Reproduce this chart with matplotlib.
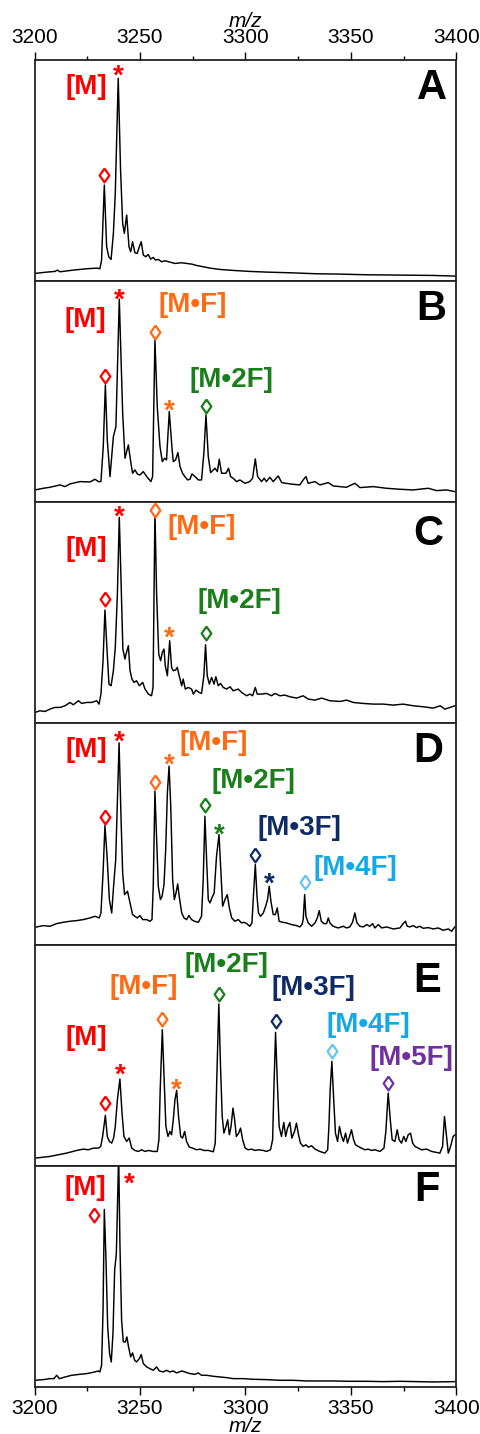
import matplotlib
matplotlib.use('Agg')
import matplotlib.pyplot as plt
import numpy as np
from matplotlib.transforms import offset_copy

plt.rcParams['font.family'] = ['Liberation Sans', 'DejaVu Sans']

# ---- traces (m/z, intensity a.u.) ----
mz_a = [3200.2, 3205.8, 3209.7, 3210.8, 3212.1, 3218.4, 3224.7, 3229.5, 3231.0, 3231.8,
        3233.1, 3234.2, 3235.2, 3236.3, 3237.4, 3238.3, 3239.7, 3240.8, 3241.8, 3242.6,
        3243.7, 3244.8, 3245.6, 3246.5, 3247.6, 3248.7, 3249.7, 3250.6, 3251.6, 3252.8,
        3253.9, 3255.1, 3256.3, 3257.4, 3258.7, 3260.3, 3261.8, 3264.2, 3266.6, 3269.7,
        3272.1, 3274.5, 3276.8, 3280.0, 3283.2, 3287.9, 3294.3, 3302.2, 3310.1, 3321.1,
        3333.8, 3344.8, 3357.5, 3373.3, 3389.1, 3399.8]
int_a = [23, 27, 29, 33, 28, 33, 37, 39, 37, 63,
         288, 103, 73, 65, 143, 263, 608, 333, 173, 143,
         198, 103, 88, 118, 85, 83, 103, 118, 78, 73,
         80, 66, 71, 63, 65, 58, 61, 57, 53, 55,
         53, 51, 47, 43, 39, 35, 32, 29, 27, 25,
         22, 21, 19, 18, 17, 15]

mz_b = [3200.2, 3204.2, 3207.3, 3212.1, 3214.5, 3216.8, 3221.6, 3226.3, 3228.7, 3230.3,
        3231.5, 3232.6, 3233.6, 3234.5, 3235.8, 3237.4, 3238.6, 3240.2, 3241.8, 3242.9,
        3244.5, 3245.6, 3246.5, 3247.6, 3248.9, 3250.0, 3251.6, 3253.2, 3255.2, 3256.0,
        3257.1, 3258.2, 3259.5, 3260.6, 3261.7, 3262.6, 3263.9, 3265.2, 3265.8, 3266.9,
        3268.0, 3269.0, 3270.2, 3271.3, 3272.6, 3273.7, 3274.7, 3276.1, 3277.7, 3279.2,
        3280.3, 3281.3, 3282.4, 3283.5, 3284.8, 3285.6, 3286.7, 3287.6, 3288.7, 3290.8,
        3292.0, 3293.0, 3294.2, 3295.8, 3297.4, 3299.8, 3302.1, 3303.4, 3304.7, 3305.8,
        3307.7, 3308.9, 3310.0, 3311.6, 3313.2, 3315.6, 3317.2, 3321.1, 3325.8, 3327.4,
        3328.7, 3329.8, 3333.0, 3335.3, 3339.3, 3341.6, 3347.9, 3351.9, 3354.3, 3360.6,
        3366.9, 3373.3, 3379.6, 3386.7, 3390.6, 3395.4, 3399.3]
int_b = [37, 42, 45, 52, 47, 55, 62, 61, 69, 62,
         62, 167, 352, 187, 77, 197, 227, 609, 267, 132,
         172, 122, 87, 97, 84, 82, 92, 77, 62, 77,
         487, 287, 167, 122, 132, 127, 272, 162, 122, 127,
         149, 107, 87, 77, 67, 69, 85, 77, 67, 67,
         147, 262, 137, 89, 97, 102, 92, 129, 87, 87,
         102, 77, 72, 62, 67, 57, 62, 72, 130, 77,
         62, 72, 62, 75, 62, 79, 59, 55, 52, 67,
         77, 57, 62, 52, 59, 49, 45, 57, 44, 47,
         42, 39, 37, 42, 35, 37, 32]

mz_c = [3200.2, 3202.6, 3205.0, 3207.3, 3209.7, 3212.1, 3214.5, 3216.8, 3218.4, 3220.8,
        3222.4, 3224.7, 3227.1, 3229.5, 3230.6, 3231.5, 3232.5, 3233.4, 3234.4, 3235.3,
        3236.3, 3237.4, 3238.3, 3239.3, 3240.2, 3241.2, 3241.9, 3242.9, 3243.4, 3244.5,
        3245.3, 3246.2, 3247.2, 3248.4, 3249.7, 3251.3, 3252.4, 3254.0, 3255.5, 3256.2,
        3257.1, 3257.9, 3258.9, 3259.8, 3260.6, 3261.4, 3262.0, 3263.0, 3264.1, 3265.0,
        3265.8, 3266.9, 3267.7, 3268.6, 3269.8, 3270.5, 3271.5, 3272.9, 3274.5, 3275.3,
        3276.6, 3278.0, 3279.2, 3280.3, 3281.1, 3281.9, 3282.9, 3284.0, 3285.1, 3286.0,
        3287.1, 3288.2, 3289.5, 3291.1, 3292.7, 3294.2, 3296.6, 3298.2, 3300.6, 3302.1,
        3303.4, 3304.7, 3305.6, 3307.7, 3310.0, 3312.4, 3314.0, 3316.4, 3318.7, 3321.1,
        3324.3, 3327.4, 3329.8, 3333.0, 3336.1, 3340.1, 3344.8, 3348.0, 3351.1, 3355.9,
        3360.6, 3365.4, 3370.1, 3374.8, 3379.6, 3384.3, 3389.1, 3392.3, 3394.6, 3397.0,
        3399.3]
int_c = [33, 38, 36, 43, 48, 48, 53, 63, 56, 68,
         60, 63, 63, 68, 58, 88, 188, 340, 218, 118,
         113, 158, 228, 388, 618, 388, 223, 193, 208, 233,
         158, 133, 123, 128, 113, 123, 103, 88, 83, 108,
         636, 388, 208, 188, 213, 223, 173, 143, 248, 168,
         158, 160, 168, 143, 113, 133, 103, 108, 103, 88,
         100, 93, 90, 143, 236, 143, 118, 138, 118, 140,
         113, 120, 108, 103, 110, 98, 103, 93, 83, 88,
         83, 108, 88, 88, 90, 83, 90, 83, 85, 80,
         76, 83, 73, 70, 76, 68, 66, 70, 63, 60,
         58, 58, 55, 58, 53, 50, 46, 53, 43, 48,
         53]

mz_d = [3200.2, 3204.2, 3207.3, 3210.5, 3213.7, 3216.8, 3220.0, 3223.1, 3226.3, 3228.7,
        3230.7, 3231.5, 3232.5, 3233.4, 3234.4, 3235.5, 3236.6, 3237.5, 3238.5, 3239.3,
        3240.1, 3241.0, 3241.8, 3242.7, 3244.1, 3245.3, 3246.5, 3247.6, 3248.7, 3250.0,
        3251.3, 3253.2, 3254.7, 3255.7, 3256.3, 3257.1, 3257.9, 3258.7, 3259.7, 3260.5,
        3261.4, 3262.2, 3263.0, 3263.8, 3264.6, 3265.5, 3266.3, 3267.1, 3267.9, 3268.6,
        3269.8, 3270.9, 3272.1, 3273.2, 3274.5, 3275.8, 3277.7, 3279.2, 3280.0, 3280.8,
        3281.6, 3282.4, 3283.2, 3284.1, 3285.2, 3286.3, 3287.5, 3288.4, 3289.2, 3290.3,
        3291.4, 3292.4, 3293.5, 3295.0, 3296.6, 3298.2, 3299.4, 3300.6, 3302.1, 3303.1,
        3303.7, 3304.7, 3305.5, 3306.2, 3307.2, 3308.5, 3309.6, 3310.5, 3311.3, 3312.1,
        3313.2, 3314.2, 3315.1, 3316.0, 3317.6, 3319.5, 3321.9, 3324.3, 3325.8, 3326.8,
        3327.4, 3328.1, 3328.7, 3329.8, 3331.4, 3333.0, 3334.1, 3335.0, 3336.0, 3337.2,
        3338.5, 3339.3, 3340.1, 3341.6, 3344.0, 3346.4, 3348.0, 3349.5, 3350.8, 3351.9,
        3352.9, 3354.3, 3355.9, 3357.5, 3359.0, 3360.3, 3361.4, 3363.0, 3364.6, 3367.0,
        3370.1, 3373.3, 3374.8, 3375.9, 3376.7, 3378.0, 3379.6, 3381.1, 3382.7, 3384.3,
        3386.7, 3389.1, 3391.4, 3393.8, 3396.2, 3397.8, 3399.3]
int_d = [52, 57, 55, 63, 67, 70, 72, 75, 80, 85,
         80, 95, 215, 357, 265, 135, 95, 175, 255, 435,
         605, 385, 215, 150, 160, 125, 90, 85, 80, 87,
         75, 75, 70, 75, 175, 460, 315, 175, 135, 145,
         180, 285, 455, 535, 415, 195, 135, 155, 182, 145,
         95, 80, 75, 87, 75, 70, 67, 85, 195, 385,
         255, 135, 125, 140, 155, 265, 330, 215, 115, 135,
         150, 110, 80, 70, 75, 65, 67, 63, 55, 65,
         135, 240, 145, 95, 85, 95, 115, 135, 175, 130,
         90, 90, 110, 70, 67, 65, 60, 57, 53, 60,
         75, 150, 85, 65, 55, 65, 80, 102, 70, 63,
         63, 80, 65, 55, 50, 55, 50, 53, 67, 95,
         65, 55, 53, 60, 55, 63, 50, 60, 50, 53,
         47, 50, 63, 70, 55, 53, 57, 51, 55, 49,
         51, 47, 50, 43, 47, 40, 53]

mz_e = [3200.2, 3204.2, 3207.3, 3211.3, 3215.2, 3220.0, 3223.1, 3225.5, 3227.9, 3230.3,
        3231.4, 3232.3, 3233.6, 3234.5, 3235.5, 3236.6, 3237.5, 3238.3, 3239.3, 3240.5,
        3241.5, 3242.4, 3243.7, 3244.9, 3246.1, 3247.6, 3249.2, 3250.8, 3252.4, 3254.0,
        3256.3, 3258.2, 3259.0, 3259.6, 3260.6, 3261.5, 3262.3, 3263.3, 3264.2, 3265.0,
        3265.8, 3266.6, 3267.4, 3268.3, 3269.3, 3270.2, 3271.2, 3272.1, 3273.4, 3275.0,
        3276.9, 3278.5, 3280.3, 3282.4, 3284.8, 3285.7, 3286.5, 3287.4, 3288.2, 3289.0,
        3289.8, 3290.8, 3291.6, 3292.4, 3293.2, 3294.1, 3294.9, 3295.7, 3296.8, 3297.7,
        3298.7, 3299.9, 3301.3, 3302.9, 3304.5, 3306.1, 3308.5, 3310.0, 3311.9, 3312.9,
        3313.5, 3314.3, 3315.1, 3316.0, 3317.1, 3318.2, 3319.1, 3320.0, 3321.1, 3322.0,
        3323.3, 3324.2, 3325.2, 3326.1, 3327.4, 3328.7, 3329.8, 3331.4, 3333.0, 3335.3,
        3337.7, 3339.0, 3339.6, 3340.2, 3341.0, 3341.8, 3342.7, 3343.7, 3344.6, 3345.6,
        3346.5, 3347.5, 3348.4, 3349.4, 3350.3, 3351.3, 3352.2, 3353.5, 3355.1, 3356.6,
        3358.2, 3359.8, 3361.4, 3363.8, 3365.7, 3366.6, 3367.7, 3368.7, 3369.6, 3370.9,
        3372.0, 3372.9, 3374.0, 3375.1, 3376.1, 3377.2, 3378.3, 3379.3, 3380.4, 3382.0,
        3383.5, 3385.9, 3388.3, 3390.7, 3392.2, 3393.5, 3394.4, 3395.4, 3396.2, 3397.3,
        3398.5, 3399.4]
int_e = [23, 26, 28, 33, 38, 46, 50, 48, 53, 53,
         58, 88, 151, 88, 73, 68, 83, 118, 198, 260,
         158, 88, 73, 83, 53, 46, 43, 48, 43, 46,
         43, 43, 78, 228, 408, 258, 118, 88, 103, 93,
         138, 198, 226, 148, 88, 83, 103, 73, 56, 53,
         48, 50, 46, 46, 42, 68, 278, 485, 298, 148,
         98, 118, 138, 93, 118, 173, 138, 88, 98, 113,
         78, 53, 48, 50, 46, 48, 46, 43, 48, 78,
         228, 400, 258, 118, 88, 130, 88, 113, 130, 83,
         103, 128, 93, 68, 58, 63, 56, 60, 50, 43,
         38, 48, 118, 228, 313, 208, 98, 73, 118, 88,
         73, 98, 68, 88, 108, 78, 63, 58, 53, 48,
         50, 46, 48, 43, 53, 103, 218, 138, 78, 73,
         108, 78, 68, 88, 73, 93, 98, 68, 58, 53,
         48, 50, 43, 40, 38, 58, 148, 88, 38, 58,
         88, 93]

mz_f = [3200.2, 3204.2, 3207.3, 3209.2, 3210.5, 3211.8, 3214.5, 3217.6, 3221.6, 3224.7,
        3227.9, 3230.3, 3231.0, 3231.8, 3232.5, 3233.1, 3233.9, 3234.7, 3235.6, 3236.4,
        3237.2, 3238.0, 3238.8, 3239.3, 3239.9, 3240.5, 3241.3, 3242.1, 3243.1, 3243.8,
        3244.6, 3245.6, 3246.5, 3247.5, 3248.4, 3249.7, 3250.6, 3251.6, 3253.2, 3254.7,
        3256.3, 3257.9, 3259.2, 3261.1, 3262.6, 3264.2, 3265.8, 3267.4, 3269.8, 3271.3,
        3273.7, 3276.1, 3277.7, 3279.2, 3281.6, 3284.8, 3287.9, 3291.1, 3294.2, 3299.0,
        3303.7, 3310.0, 3316.4, 3322.7, 3329.0, 3335.3, 3341.6, 3349.5, 3357.5, 3365.4,
        3373.3, 3381.1, 3389.1, 3399.3]
int_f = [20, 22, 25, 25, 35, 25, 30, 35, 38, 40,
         44, 48, 45, 65, 230, 532, 380, 180, 100, 75,
         160, 350, 400, 530, 700, 430, 200, 135, 135, 150,
         120, 90, 102, 80, 75, 85, 97, 70, 60, 55,
         50, 60, 48, 45, 50, 45, 48, 42, 48, 45,
         40, 38, 42, 35, 35, 32, 30, 28, 25, 25,
         23, 22, 20, 20, 18, 18, 18, 17, 17, 16,
         17, 16, 15, 16]

panel_letters = ['A', 'B', 'C', 'D', 'E', 'F']
traces = [(mz_a, int_a), (mz_b, int_b), (mz_c, int_c),
          (mz_d, int_d), (mz_e, int_e), (mz_f, int_f)]

# annotated peaks: (symbol, species, peak m/z)
peaks = [
    [('d', 'M', 3233.1), ('*', 'M', 3239.7)],
    [('d', 'M', 3233.6), ('*', 'M', 3240.2), ('d', 'F1', 3257.1), ('*', 'F1', 3263.9),
     ('d', 'F2', 3281.3)],
    [('d', 'M', 3233.4), ('*', 'M', 3240.2), ('d', 'F1', 3257.1), ('*', 'F1', 3264.1),
     ('d', 'F2', 3281.1)],
    [('d', 'M', 3233.4), ('*', 'M', 3240.1), ('d', 'F1', 3257.1), ('*', 'F1', 3263.8),
     ('d', 'F2', 3280.8), ('*', 'F2', 3287.5), ('d', 'F3', 3304.7), ('*', 'F3', 3311.3),
     ('d', 'F4', 3328.1)],
    [('d', 'M', 3233.6), ('*', 'M', 3240.5), ('d', 'F1', 3260.6), ('*', 'F1', 3267.4),
     ('d', 'F2', 3287.4), ('d', 'F3', 3314.3), ('d', 'F4', 3341.0), ('d', 'F5', 3367.7)],
    [('d', 'M', 3233.1), ('*', 'M', 3239.9)],
]
species_text = {'M': '[M]', 'F1': '[M\u2022F]', 'F2': '[M\u20222F]', 'F3': '[M\u20223F]',
                'F4': '[M\u20224F]', 'F5': '[M\u20225F]'}

# ---- layout / style ----
text_col = {'M': '#FF0000', 'F1': '#FF6A13', 'F2': '#1A7F1A', 'F3': '#0F2B66',
            'F4': '#14A8E6', 'F5': '#7030A0'}
mark_col = dict(text_col, F4='#62C6EE')
# marker offsets in pixels (dx, dy) per annotated peak
mark_off = [
    [(0, 10), (0, 10)],
    [(0, 9), (0, 7), (0, 8), (0, 8), (0, 9)],
    [(0, 11), (0, 8), (0, 1), (0, 10), (0, 12)],
    [(0, 9), (0, 8), (0, 9), (0, 9), (0, 11), (0, 7), (0, 10), (0, 10), (0, 13)],
    [(0, 12), (0, 11), (0, 11), (0, 8), (0, 10), (0, 11), (0, 10), (0, 10)],
    [(-10, -6), (11, -11)],
]
# species labels: (species, x frac, y frac)
labels = [
    [('M', 0.124, 0.879)],
    [('M', 0.120, 0.825), ('F1', 0.376, 0.894), ('F2', 0.468, 0.553)],
    [('M', 0.124, 0.789), ('F1', 0.396, 0.888), ('F2', 0.487, 0.555)],
    [('M', 0.122, 0.882), ('F1', 0.424, 0.913), ('F2', 0.519, 0.739),
     ('F3', 0.629, 0.528), ('F4', 0.760, 0.347)],
    [('M', 0.124, 0.578), ('F1', 0.258, 0.809), ('F2', 0.454, 0.910),
     ('F3', 0.661, 0.804), ('F4', 0.791, 0.638), ('F5', 0.893, 0.487)],
    [('M', 0.120, 0.898)],
]
letter_pos = [(0.977, 0.872), (0.977, 0.876), (0.969, 0.857),
              (0.969, 0.875), (0.963, 0.834), (0.960, 0.890)]

YTOP = 663
STAR_SHIFT = 15  # asterisk ink sits above the baseline
diamond = [(0, 1), (0.7, 0), (0, -1), (-0.7, 0), (0, 1)]

fig, axes = plt.subplots(6, 1, figsize=(4.8, 14.34), dpi=100,
                         gridspec_kw=dict(hspace=0, left=0.0719, right=0.9506,
                                          top=0.9582, bottom=0.0328))

for i, ax in enumerate(axes):
    mz = np.array(traces[i][0]); inten = np.array(traces[i][1])
    ax.plot(mz, inten, color='black', lw=1.05)
    ax.set_xlim(3200, 3400)
    ax.set_ylim(0, YTOP)
    ax.set_yticks([])
    ax.set_xticks(np.arange(3200, 3401, 50))
    ax.set_xticks(np.arange(3225, 3400, 50), minor=True)
    ax.tick_params(axis='x', which='both', bottom=False, top=False,
                   labelbottom=False, labeltop=False)
    for s in ax.spines.values():
        s.set_linewidth(1.3)
        s.set_color('#222222')

    for (sym, sp, pmz), (dx, dy) in zip(peaks[i], mark_off[i]):
        sel = np.abs(mz - pmz) <= 1.0
        j = np.argmax(np.where(sel, inten, -1))
        x0, y0 = mz[j], min(inten[j], YTOP)
        if sym == 'd':
            tr = offset_copy(ax.transData, fig=fig, x=dx, y=dy, units='dots')
            ax.plot([x0], [y0], marker=diamond, ms=10, mfc='white',
                    mec=mark_col[sp], mew=1.6, transform=tr, clip_on=False)
        else:
            tr = offset_copy(ax.transData, fig=fig, x=dx, y=dy - STAR_SHIFT, units='dots')
            ax.text(x0, y0, '*', transform=tr, ha='center', va='baseline',
                    fontsize=20, fontweight='bold', color=text_col[sp])

    for sp, fx, fy in labels[i]:
        ax.text(fx, fy, species_text[sp], transform=ax.transAxes, ha='center',
                va='center', fontsize=20, fontweight='bold', color=text_col[sp])
    lx, ly = letter_pos[i]
    ax.text(lx, ly, panel_letters[i], transform=ax.transAxes, ha='right',
            va='center', fontsize=30, fontweight='bold', color='black')

for ax, side in ((axes[0], 'top'), (axes[-1], 'bottom')):
    ax.tick_params(axis='x', which='both', direction='out',
                   **{side: True, 'label' + side: True})
    ax.tick_params(axis='x', which='major', length=5.5, width=1.0, labelsize=15)
    ax.tick_params(axis='x', which='minor', length=3, width=1.0)
axes[0].xaxis.set_label_position('top')
axes[0].set_xlabel('m/z', fontsize=15, style='italic', labelpad=1)
axes[-1].set_xlabel('m/z', fontsize=15, style='italic', labelpad=-1)

fig.savefig('out.png', dpi=100)
